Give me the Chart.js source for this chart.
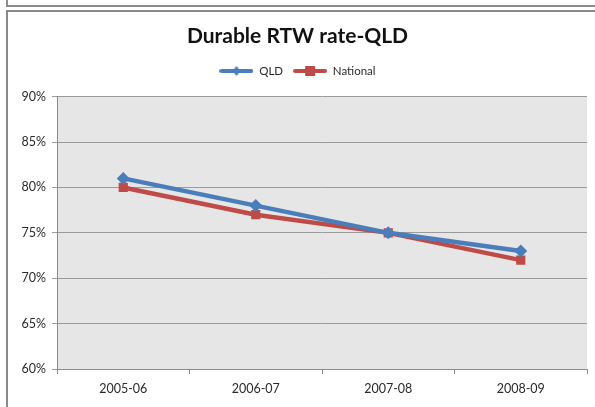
<!DOCTYPE html>
<html>
<head>
<meta charset="utf-8">
<script src="https://cdn.jsdelivr.net/npm/chart.js@4.4.1/dist/chart.umd.min.js"></script>
<style>
  html, body { margin: 0; padding: 0; background: #ffffff; }
  #wrap { position: relative; width: 595px; height: 407px; overflow: hidden; }
  #cellAbove { position: absolute; left: 6px; top: -2px; width: 600px; height: 7px;
               border-left: 2px solid #8a8a8a; border-bottom: 2px solid #8a8a8a; }
  #frame { position: absolute; left: 6px; top: 10px; width: 600px; height: 400px;
           border-left: 2px solid #8a8a8a; border-top: 2px solid #8a8a8a; }
  canvas { position: absolute; left: 0; top: 0; }
</style>
</head>
<body>
<div id="wrap">
  <div id="cellAbove"></div>
  <div id="frame"></div>
  <canvas id="chart" width="595" height="407"></canvas>
</div>
<script>
// Durable return-to-work rates by financial year (%)
const years = ['2005-06', '2006-07', '2007-08', '2008-09'];
const qld = [81, 78, 75, 73];
const national = [80, 77, 75, 72];
const yTicks = [60, 65, 70, 75, 80, 85, 90];

const BLUE = '#4a7ebb';
const RED = '#be4b48';
const TEXT = '#2a2a2a';

// Legend swatch: a short line with the series marker in the middle
function swatch(color, shape) {
  const c = document.createElement('canvas');
  c.width = 34; c.height = 12;
  const g = c.getContext('2d');
  g.strokeStyle = color; g.lineWidth = 4; g.lineCap = 'round';
  g.beginPath(); g.moveTo(2, 6); g.lineTo(32, 6); g.stroke();
  g.fillStyle = color;
  if (shape === 'rect') {
    g.fillRect(12, 1, 10, 10);
  } else {
    g.beginPath(); g.moveTo(17, 1); g.lineTo(21, 6); g.lineTo(17, 11); g.lineTo(13, 6); g.closePath(); g.fill();
  }
  return c;
}

const plotBg = {
  id: 'plotBg',
  beforeDraw(chart) {
    const a = chart.chartArea, ctx = chart.ctx;
    ctx.save();
    ctx.fillStyle = '#e6e6e6';
    ctx.fillRect(a.left, a.top, a.right - a.left, a.bottom - a.top);
    ctx.restore();
  }
};

// Extra room between the legend row and the plot
const legendGap = {
  id: 'legendGap',
  beforeInit(chart) {
    const lg = chart.legend;
    if (!lg) return;
    const fit = lg.fit;
    lg.fit = function () { fit.call(this); this.height += 10; };
  }
};

new Chart(document.getElementById('chart'), {
  type: 'line',
  data: {
    labels: years,
    datasets: [
      { label: 'QLD', data: qld, borderColor: BLUE, backgroundColor: BLUE,
        borderWidth: 4.5, pointStyle: 'rectRot', pointRadius: 6.5, pointBorderWidth: 0,
        tension: 0, legendSwatch: swatch(BLUE, 'diamond') },
      { label: 'National', data: national, borderColor: RED, backgroundColor: RED,
        borderWidth: 4.5, pointStyle: 'rect', pointRadius: 6.5, pointBorderWidth: 0,
        tension: 0, legendSwatch: swatch(RED, 'rect') }
    ]
  },
  options: {
    responsive: false,
    animation: false,
    layout: { padding: { left: 8, right: 8, top: 16, bottom: 4 } },
    plugins: {
      title: {
        display: true, text: 'Durable RTW rate-QLD', color: '#111111',
        font: { family: 'Lato', size: 21, weight: 'bold' },
        padding: { top: 8, bottom: 6 }
      },
      legend: {
        display: true, position: 'top',
        labels: {
          usePointStyle: true, pointStyleWidth: 34, boxHeight: 12, padding: 10,
          color: TEXT, font: { family: 'Lato', size: 11.5 },
          generateLabels(chart) {
            return chart.data.datasets.map((ds, i) => ({
              text: ds.label, pointStyle: ds.legendSwatch, fillStyle: ds.borderColor,
              strokeStyle: ds.borderColor, lineWidth: 0, hidden: false, datasetIndex: i,
              fontColor: TEXT
            }));
          }
        }
      },
      tooltip: { enabled: false }
    },
    scales: {
      x: {
        offset: true,
        grid: { display: true, offset: true, drawOnChartArea: false, color: '#8c8c8c', tickLength: 5 },
        border: { color: '#8c8c8c', width: 1 },
        ticks: { color: TEXT, font: { family: 'Lato', size: 12.5 }, padding: 7, maxRotation: 0 }
      },
      y: {
        min: 60, max: 90,
        afterBuildTicks(scale) { scale.ticks = yTicks.map(v => ({ value: v })); },
        afterFit(scale) { scale.width = 49; },
        grid: { color: '#9a9a9a', tickLength: 5 },
        border: { color: '#8c8c8c', width: 1 },
        ticks: { color: TEXT, font: { family: 'Lato', size: 12.5 }, padding: 6,
                 callback: v => v + '%' }
      }
    }
  },
  plugins: [plotBg, legendGap]
});
</script>
</body>
</html>
